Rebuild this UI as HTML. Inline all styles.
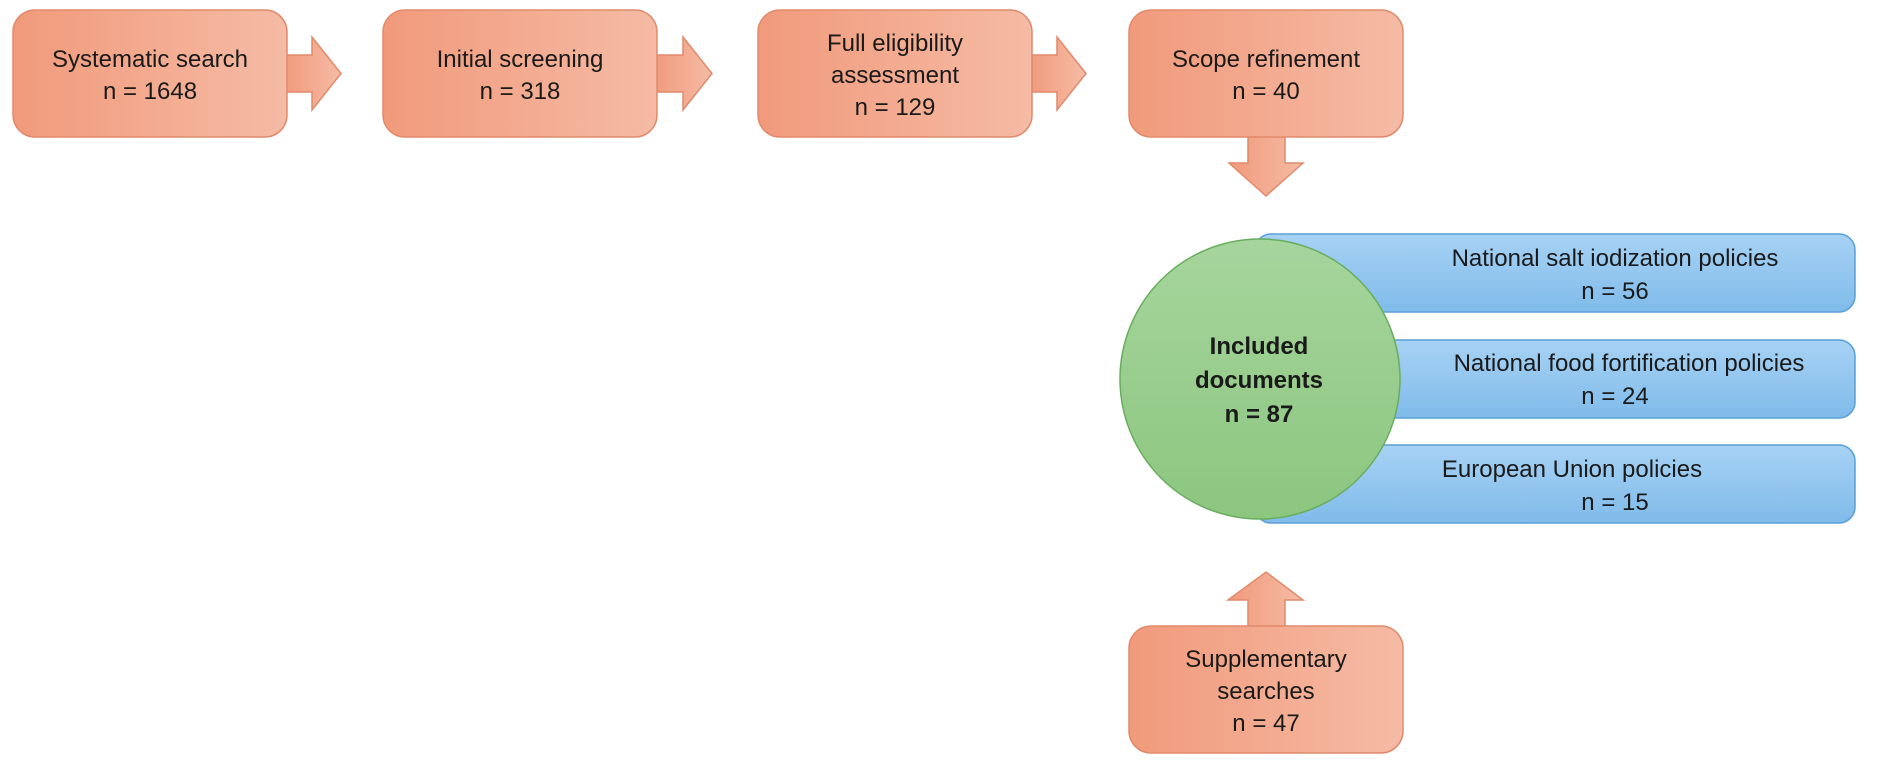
<!DOCTYPE html>
<html><head><meta charset="utf-8"><style>
html,body{margin:0;padding:0;background:#fff;}
svg{display:block;}
text{font-family:"Liberation Sans",sans-serif;fill:#1a1a1a;}
</style></head><body>
<svg width="1902" height="767" viewBox="0 0 1902 767" xmlns="http://www.w3.org/2000/svg">
<defs>
<linearGradient id="og" x1="0" x2="1" y1="0" y2="0"><stop offset="0" stop-color="#f19a7b"/><stop offset="1" stop-color="#f5bba5"/></linearGradient>
<linearGradient id="gg" x1="0" x2="0" y1="0" y2="1"><stop offset="0" stop-color="#a6d59d"/><stop offset="1" stop-color="#8cc67f"/></linearGradient>
<linearGradient id="bg" x1="0" x2="0" y1="0" y2="1"><stop offset="0" stop-color="#a7d2f4"/><stop offset="1" stop-color="#80bbea"/></linearGradient>
</defs>
<g stroke="#e2896b" stroke-width="1.5" fill="url(#og)">
<!-- right arrows -->
<polygon points="283,55 312,55 312,37 341,73.5 312,110 312,92 283,92"/>
<polygon points="653,55 683,55 683,37 712,73.5 683,110 683,92 653,92"/>
<polygon points="1028,55 1057,55 1057,37 1086,73.5 1057,110 1057,92 1028,92"/>
<!-- down arrow -->
<polygon points="1248,132 1285,132 1285,163 1303,163 1266,196 1229,163 1248,163"/>
<!-- up arrow -->
<polygon points="1248,630 1248,600 1228,600 1266,572 1303,600 1285,600 1285,630"/>
<rect x="13" y="10" width="274" height="127" rx="22"/>
<rect x="383" y="10" width="274" height="127" rx="22"/>
<rect x="758" y="10" width="274" height="127" rx="22"/>
<rect x="1129" y="10" width="274" height="127" rx="22"/>
<rect x="1129" y="626" width="274" height="127" rx="22"/>
</g>
<g stroke="#5a9fd6" stroke-width="1.5" fill="url(#bg)">
<rect x="1255" y="234" width="600" height="78" rx="16"/>
<rect x="1255" y="340" width="600" height="78" rx="16"/>
<rect x="1255" y="445" width="600" height="78" rx="16"/>
</g>
<circle cx="1260" cy="379" r="140" fill="url(#gg)" stroke="#68ad5d" stroke-width="1.5"/>
<g font-size="24" text-anchor="middle">
<text x="150" y="67">Systematic search</text><text x="150" y="99">n = 1648</text>
<text x="520" y="67">Initial screening</text><text x="520" y="99">n = 318</text>
<text x="895" y="51">Full eligibility</text><text x="895" y="83">assessment</text><text x="895" y="115">n = 129</text>
<text x="1266" y="67">Scope refinement</text><text x="1266" y="99">n = 40</text>
<text x="1266" y="667">Supplementary</text><text x="1266" y="699">searches</text><text x="1266" y="731">n = 47</text>
<text x="1615" y="266">National salt iodization policies</text><text x="1615" y="299">n = 56</text>
<text x="1629" y="371">National food fortification policies</text><text x="1615" y="404">n = 24</text>
<text x="1572" y="477">European Union policies</text><text x="1615" y="510">n = 15</text>
</g>
<g font-size="24" font-weight="bold" text-anchor="middle">
<text x="1259" y="354">Included</text><text x="1259" y="388">documents</text><text x="1259" y="422">n = 87</text>
</g>
</svg>
</body></html>
